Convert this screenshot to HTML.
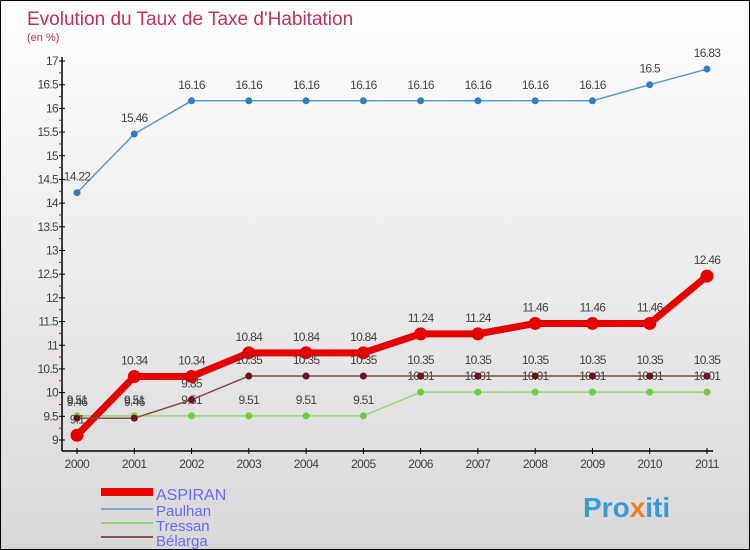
<!DOCTYPE html>
<html><head><meta charset="utf-8"><style>
body{margin:0}
#c{width:750px;height:550px;position:relative;box-sizing:border-box;border:1px solid #000;background:linear-gradient(#ffffff,#d8d8d8);font-family:"Liberation Sans",sans-serif;overflow:hidden}
svg text{font-family:"Liberation Sans",sans-serif}
</style></head><body>
<div id="c">
<svg id="s" width="750" height="550">
<text x="26" y="24" font-size="19" fill="#c0305a">Evolution du Taux de Taxe d'Habitation</text>
<text x="26" y="40" font-size="11" fill="#c0305a">(en %)</text>
<g id="ax"></g><g id="ser"></g>
<g>
<rect x="100" y="487" width="52" height="8" fill="#e00"/>
<text x="155" y="499" font-size="16" fill="#6a6aff">ASPIRAN</text>
<rect x="100" y="507" width="52" height="2" fill="#79a9d0"/>
<text x="155" y="515" font-size="15" fill="#6a6aff">Paulhan</text>
<rect x="100" y="521" width="52" height="2" fill="#90d870"/>
<text x="155" y="530" font-size="15" fill="#6a6aff">Tressan</text>
<rect x="100" y="535" width="52" height="2" fill="#8a5050"/>
<text x="155" y="545" font-size="15" fill="#6a6aff">Bélarga</text>
</g>
<text x="582" y="516" font-size="28" font-weight="bold" fill="#3a9ad8">Pro<tspan fill="#f08020">x</tspan>iti</text>
</svg>
</div>
<script>
const years=["2000","2001","2002","2003","2004","2005","2006","2007","2008","2009","2010","2011"];
const aspiran=[9.1,10.34,10.34,10.84,10.84,10.84,11.24,11.24,11.46,11.46,11.46,12.46];
const paulhan=[14.22,15.46,16.16,16.16,16.16,16.16,16.16,16.16,16.16,16.16,16.5,16.83];
const tressan=[9.51,9.51,9.51,9.51,9.51,9.51,10.01,10.01,10.01,10.01,10.01,10.01];
const belarga=[9.46,9.46,9.85,10.35,10.35,10.35,10.35,10.35,10.35,10.35,10.35,10.35];
const yTicks=[9,9.5,10,10.5,11,11.5,12,12.5,13,13.5,14,14.5,15,15.5,16,16.5,17];
const NS="http://www.w3.org/2000/svg";
const xs=i=>76+i*(630/(years.length-1));
const ys=v=>439-(v-9)*(379/8);
function mk(t,a,p){const e=document.createElementNS(NS,t);for(const k in a)e.setAttribute(k,a[k]);p.appendChild(e);return e;}
const ax=document.getElementById('ax'),ser=document.getElementById('ser');
const yl=mk('line',{x1:61,y1:56,x2:61,y2:450,stroke:'#000','stroke-width':1.5},ax);


const xl=mk('line',{x1:61,y1:450,x2:712,y2:450,stroke:'#000','stroke-width':1.5},ax);


yTicks.forEach((v,i)=>{
  const y=ys(v);
  mk('line',{x1:58,y1:y,x2:64,y2:y,stroke:'#000'},ax);
  if(i<yTicks.length-1){mk('line',{x1:58,y1:y-(379/32),x2:61,y2:y-(379/32),stroke:'#e00'},ax);}
  const t=mk('text',{x:57,y:y+4,'font-size':12,fill:'#444','text-anchor':'end','letter-spacing':'-0.7'},ax);
  t.textContent=String(v);
  
  
});
years.forEach((yr,i)=>{
  const x=xs(i);
  mk('line',{x1:x,y1:447,x2:x,y2:453,stroke:'#000'},ax);
  const t=mk('text',{x:x,y:467,'font-size':12,fill:'#444','text-anchor':'middle','letter-spacing':'-0.5'},ax);
  t.textContent=yr;
  
  
});
function series(data,name,color,w,r,dot){
  const g=mk('g',{},ser);
  
  
  const p=mk('polyline',{points:data.map((v,i)=>xs(i)+','+ys(v)).join(' '),fill:'none',stroke:color,'stroke-width':w,'stroke-linejoin':'round'},g);
  
  
  data.forEach((v,i)=>{
    const c=mk('circle',{cx:xs(i),cy:ys(v),r:r,fill:dot},g);
    
    
    const t=mk('text',{x:xs(i),y:ys(v)-12,'font-size':12,fill:'#444','text-anchor':'middle','letter-spacing':'-0.7'},g);
    t.textContent=String(v);
    
    
  });
}
series(paulhan,'paulhan','#5a9ad0',1.5,3.5,'#2f7fc0');
series(tressan,'tressan','#90d870',1.5,3.5,'#70cc40');
series(aspiran,'aspiran','#e80000',7,6.5,'#e80000');
series(belarga,'belarga','#8a4a4a',1.5,3.5,'#6a1515');
</script>
</body></html>
